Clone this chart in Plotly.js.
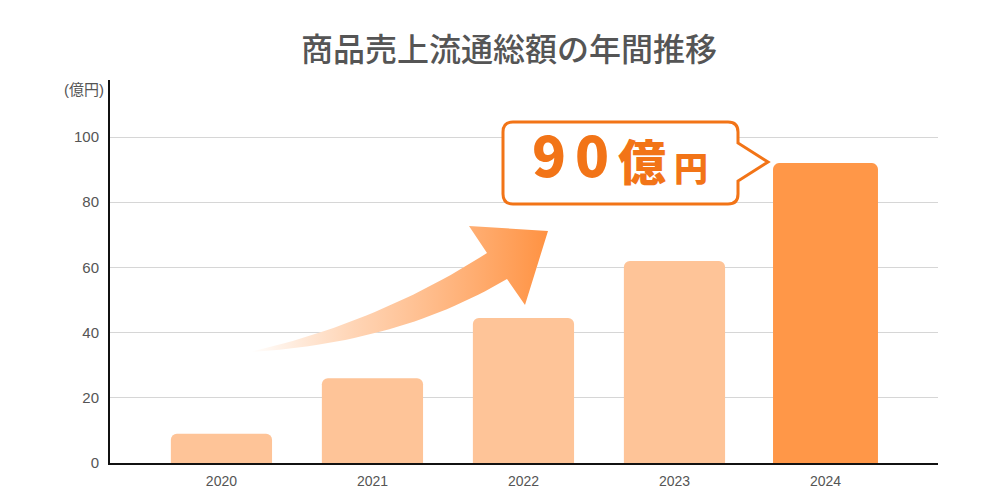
<!DOCTYPE html>
<html><head><meta charset="utf-8">
<script src="https://cdn.plot.ly/plotly-3.0.1.min.js"></script>
<style>html,body{margin:0;padding:0;background:#fff}#c{width:1000px;height:500px}</style>
</head><body><div id="c"></div>
<script>
const years = ['2020','2021','2022','2023','2024'];
const sales = [9, 26, 44.5, 62, 92];
const barColors = ['#FEC498','#FEC498','#FEC498','#FEC498','#FF9748'];
const yTicks = [0,20,40,60,80,100];
const titleText = '商品売上流通総額の年間推移';
const unitText = '(億円)';
const calloutDigits = ['9','0'];
const calloutUnit1 = '億';
const calloutUnit2 = '円';

// decorative arrow outline (pixel space via overlay axes)
function bez(p0,p1,p2,n){const o=[];for(let i=0;i<=n;i++){const t=i/n;o.push([(1-t)*(1-t)*p0[0]+2*(1-t)*t*p1[0]+t*t*p2[0],(1-t)*(1-t)*p0[1]+2*(1-t)*t*p1[1]+t*t*p2[1]]);}return o;}
const up = bez([250,352],[380,322],[487,253],30);
const lo = bez([507,279],[400,343],[250,352],30);
const arrowPts = up.concat([[469,226],[548,231],[525,305]]).concat(lo);
const ax = arrowPts.map(p=>p[0]), ay = arrowPts.map(p=>p[1]);

const orange = '#F27417';
const traces = [
  {type:'bar', x:years, y:sales, marker:{color:barColors, cornerradius:6},
   width:[0.67,0.67,0.67,0.67,0.695], hoverinfo:'skip', xaxis:'x', yaxis:'y'},
  {type:'scatter', mode:'lines', x:ax, y:ay, fill:'toself', fillcolor:'#ffffff',
   line:{width:0}, xaxis:'x2', yaxis:'y2', hoverinfo:'skip'},
  {type:'scatter', mode:'lines', x:ax, y:ay, fill:'toself',
   fillgradient:{type:'horizontal', colorscale:[[0,'rgba(255,150,70,0)'],[0.35,'rgba(255,160,90,0.45)'],[1,'rgba(255,146,66,1)']]},
   line:{width:0}, xaxis:'x2', yaxis:'y2', hoverinfo:'skip'}
];

const bigFont = {size:56, color:orange, family:'Noto Sans CJK JP', weight:900};
const layout = {
  width:1000, height:500, showlegend:false,
  paper_bgcolor:'#fff', plot_bgcolor:'#fff',
  margin:{l:110, r:62, t:80, b:37},
  font:{family:'Liberation Sans, Noto Sans CJK JP, sans-serif', color:'#555'},
  title:{text:titleText, x:0.509, xref:'container', y:0.9, yref:'container', yanchor:'middle', xanchor:'center',
    font:{family:'Noto Sans CJK JP', size:32, color:'#555', weight:500}},
  bargap:0.33,
  xaxis:{type:'category', range:[-0.738,4.745], showgrid:false, showline:true, linecolor:'#111', linewidth:2,
    ticks:'', ticklabelstandoff:4, tickfont:{size:14, color:'#555'}, fixedrange:true, zeroline:false},
  yaxis:{range:[0,117.5], tickvals:yTicks, showgrid:true, gridcolor:'#d6d6d6', gridwidth:1,
    showline:true, linecolor:'#111', linewidth:2, ticks:'', ticklabelstandoff:6,
    tickfont:{size:15, color:'#555'}, zeroline:false, fixedrange:true},
  xaxis2:{overlaying:'x', range:[110,938], visible:false, fixedrange:true},
  yaxis2:{overlaying:'y', range:[463,80], visible:false, fixedrange:true},
  shapes:[
    {type:'path', xref:'x2', yref:'y2', layer:'above', fillcolor:'#fff', line:{color:orange, width:3},
     path:'M 513 122 L 728 122 Q 738 122 738 132 L 738 143 L 768 162 L 738 181 L 738 194 Q 738 204 728 204 L 513 204 Q 503 204 503 194 L 503 132 Q 503 122 513 122 Z'}
  ],
  annotations:[
    {text:unitText, xref:'paper', yref:'paper', x:-0.031, y:0.976, showarrow:false, xanchor:'center', yanchor:'middle',
     font:{size:15, color:'#555', family:'Liberation Sans, Noto Sans CJK JP'}},
    {text:calloutDigits[0], xref:'x2', yref:'y2', x:549, y:152, showarrow:false, xanchor:'center', yanchor:'middle', font:bigFont},
    {text:calloutDigits[1], xref:'x2', yref:'y2', x:592, y:152, showarrow:false, xanchor:'center', yanchor:'middle', font:bigFont},
    {text:calloutUnit1, xref:'x2', yref:'y2', x:642, y:159, showarrow:false, xanchor:'center', yanchor:'middle',
     font:{size:48, color:orange, family:'Noto Sans CJK JP', weight:900}},
    {text:calloutUnit2, xref:'x2', yref:'y2', x:691, y:166, showarrow:false, xanchor:'center', yanchor:'middle',
     font:{size:34, color:orange, family:'Noto Sans CJK JP', weight:900}}
  ]
};
Plotly.newPlot('c', traces, layout, {displayModeBar:false, staticPlot:true});
</script></body></html>
